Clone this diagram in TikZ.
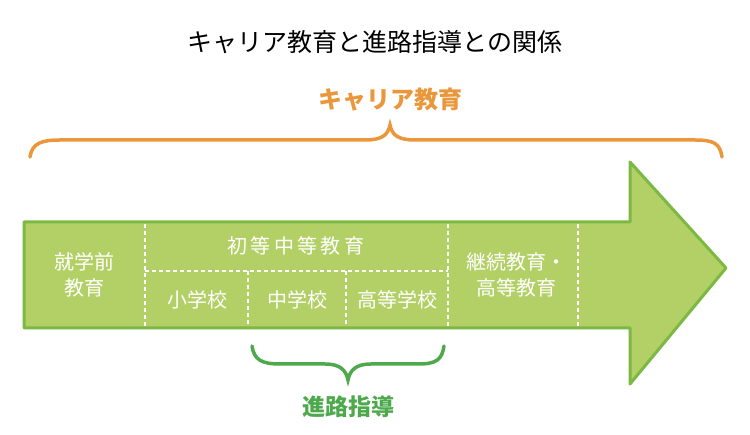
\documentclass[tikz,border=0pt]{standalone}
\usepackage{fontspec}
\setmainfont{Noto Sans CJK JP}
\definecolor{arfill}{HTML}{B3D066}
\definecolor{arline}{HTML}{7CB944}
\definecolor{ora}{HTML}{E9973A}
\definecolor{grn}{HTML}{4EA94C}
\begin{document}
\begin{tikzpicture}[x=1pt,y=-1pt,
  wt/.style={text=white,font=\fontsize{20}{24}\selectfont,align=center,inner sep=0pt},
  dl/.style={white,dashed,line width=1.3pt,dash pattern=on 4pt off 3pt}]
\useasboundingbox (0,0) rectangle (750,435);
\node (title) at (375,42) {\fontsize{25}{28}\selectfont キャリア教育と進路指導との関係};
\node[text=ora,font=\bfseries\fontsize{24}{28}\selectfont] (ct) at (390,100) {キャリア教育};
\draw[ora,line width=3.5pt,line cap=round] (30,157) .. controls (32,143) and (42,140) .. (60,140) -- (365,140) .. controls (382,140) and (388,135) .. (390,125) .. controls (392,135) and (398,140) .. (415,140) -- (695,140) .. controls (713,140) and (720,143) .. (722,157);
\draw[arline,fill=arfill,line width=3pt,line join=round] (24,222) -- (630,222) -- (630,162) -- (726,268) -- (630,384) -- (630,328) -- (24,328) -- cycle;
\draw[dl] (145,224) -- (145,326);
\draw[dl] (448,224) -- (448,326);
\draw[dl] (578,224) -- (578,326);
\draw[dl] (145,271) -- (448,271);
\draw[dl] (248,271) -- (248,326);
\draw[dl] (346,271) -- (346,326);
\node[wt] (a) at (84,275) {就学前\\[2pt]教育};
\node[wt] (b) at (296,246) {初\,等\,中\,等\,教\,育};
\node[wt] (c) at (197,300) {小学校};
\node[wt] (d) at (297,300) {中学校};
\node[wt] (e) at (397,300) {高等学校};
\node[wt] (f) at (516,275) {継続教育・\\[2pt]高等教育};
\draw[grn,line width=3.5pt,line cap=round] (252,346) .. controls (254,360) and (262,364) .. (280,364) -- (325,364) .. controls (340,364) and (346,370) .. (348,380) .. controls (350,370) and (356,364) .. (371,364) -- (418,364) .. controls (436,364) and (442,360) .. (444,346);
\node[text=grn,font=\bfseries\fontsize{23}{26}\selectfont] (g) at (348,407) {進路指導};
\end{tikzpicture}
\end{document}
